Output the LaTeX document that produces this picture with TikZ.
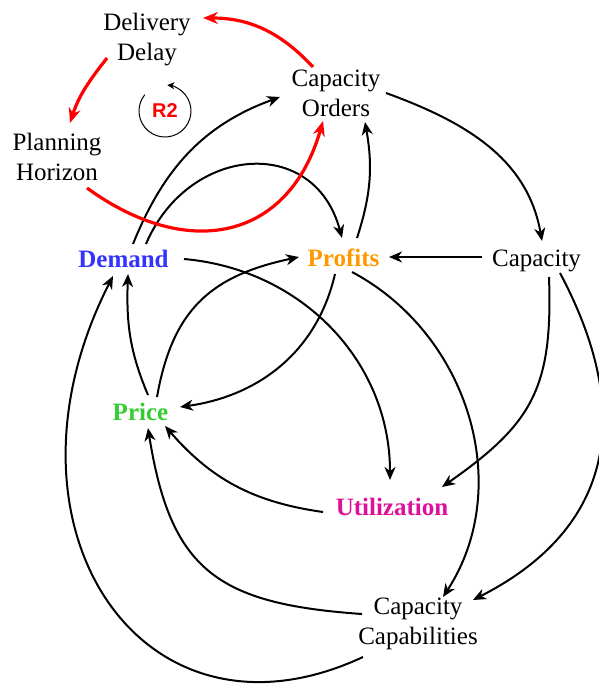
\documentclass[tikz,border=0pt]{standalone}
\usepackage{fontspec}
\setmainfont{Liberation Serif}
\newfontfamily\rfont{Liberation Sans}
\usetikzlibrary{arrows.meta}
\definecolor{cdem}{RGB}{51,51,255}
\definecolor{cpro}{RGB}{255,153,0}
\definecolor{cpri}{RGB}{51,204,51}
\definecolor{cuti}{RGB}{221,17,153}
\begin{document}
\begin{tikzpicture}[x=1pt,y=1pt,
  lbl/.style={font=\fontsize{25}{30}\selectfont, inner sep=0pt, align=center},
  one/.style={font=\fontsize{25}{30}\selectfont\bfseries, inner sep=0pt, text height=17pt, text depth=6pt},
  con/.style={draw=black, line width=2pt, -{Stealth[length=13pt,width=11pt,inset=4pt]}},
  loopc/.style={draw=red, line width=3.2pt, -{Stealth[length=15pt,width=12pt,inset=5pt]}},
  rlabel/.style={font=\rfont\bfseries\fontsize{20}{24}\selectfont, text=red, inner sep=0pt}
]
\useasboundingbox (0,0) rectangle (598,-684);
% nodes
\node[lbl] (dd) at (147,-40) {Delivery\\Delay};
\node[lbl] (co) at (336,-93) {Capacity\\Orders};
\node[lbl] (ph) at (57,-157) {Planning\\Horizon};
\node[one, text=cdem] (dem) at (123.5,-262) {Demand};
\node[one, text=cpro] (pro) at (343.5,-260.5) {Profits};
\node[one, font=\fontsize{25}{30}\selectfont] (cap) at (536.5,-260.5) {Capacity};
\node[one, text=cpri] (pri) at (140.5,-414.5) {Price};
\node[one, text=cuti] (uti) at (392,-509.5) {Utilization};
\node[lbl] (cc) at (418,-624) {Capacity\\Capabilities};
\node[rlabel] (r2) at (165,-111) {R2};
% loop symbol
\draw[line width=1pt, -{Stealth[length=7pt,width=7pt,inset=2pt]}] ([shift={(141:26pt)}]r2.center) arc[start angle=141, end angle=445, radius=26pt];
% black connectors
\draw[con] ([shift={(50,0)}]co.center) to[out=-20,in=100] ([shift={(5.5,19.5)}]cap.center);
\draw[con] ([shift={(-54.5,3.5)}]cap.center) -- ([shift={(45.5,3.5)}]pro.center);
\draw[con] ([shift={(13.5,22.5)}]pro.center) to[out=72,in=-80] ([shift={(29,-29)}]co.center);
\draw[con] ([shift={(9.5,18)}]dem.center) to[out=68,in=200] ([shift={(-56,-4)}]co.center);
\draw[con] ([shift={(22.5,18)}]dem.center) to[out=67,in=105,looseness=1.4] ([shift={(-1.5,22.5)}]pro.center);
\draw[con] ([shift={(60.5,3)}]dem.center) to[out=-5,in=90] ([shift={(-2,29.5)}]uti.center);
\draw[con] ([shift={(16.5,17.5)}]pri.center) to[out=80,in=192,looseness=1.15] ([shift={(-44.5,3.5)}]pro.center);
\draw[con] ([shift={(-8.5,-13.5)}]pro.center) to[out=-103,in=8] ([shift={(39.5,7.5)}]pri.center);
\draw[con] ([shift={(7.5,19.5)}]pri.center) to[out=113,in=-92] ([shift={(4.5,-12)}]dem.center);
\draw[con] ([shift={(-55,-33)}]cc.center) .. controls +(205:245pt) and +(-117:280pt) .. ([shift={(-10.5,-14)}]dem.center);
\draw[con] ([shift={(-56,10)}]cc.center) to[out=176,in=-81,looseness=1.3] ([shift={(7.5,-13.5)}]pri.center);
\draw[con] ([shift={(8.5,-11.5)}]pro.center) to[out=-28,in=57] ([shift={(25,27)}]cc.center);
\draw[con] ([shift={(23.5,-12.5)}]cap.center) to[out=-62,in=27,looseness=1.2] ([shift={(55,24)}]cc.center);
\draw[con] ([shift={(12.5,-16.5)}]cap.center) to[out=-88,in=35,looseness=1.2] ([shift={(50,22.5)}]uti.center);
\draw[con] ([shift={(-69,-2.5)}]uti.center) to[out=172,in=-49] ([shift={(24.5,-11.5)}]pri.center);
% red loop
\draw[loopc] ([shift={(-23,26)}]co.center) to[out=133,in=0] ([shift={(56,22)}]dd.center);
\draw[loopc] ([shift={(-40,-18)}]dd.center) to[out=-128,in=72] ([shift={(13,34)}]ph.center);
\draw[loopc] ([shift={(30,-31)}]ph.center) to[out=-36,in=-106,looseness=1.3] ([shift={(-13,-28)}]co.center);
\end{tikzpicture}
\end{document}
